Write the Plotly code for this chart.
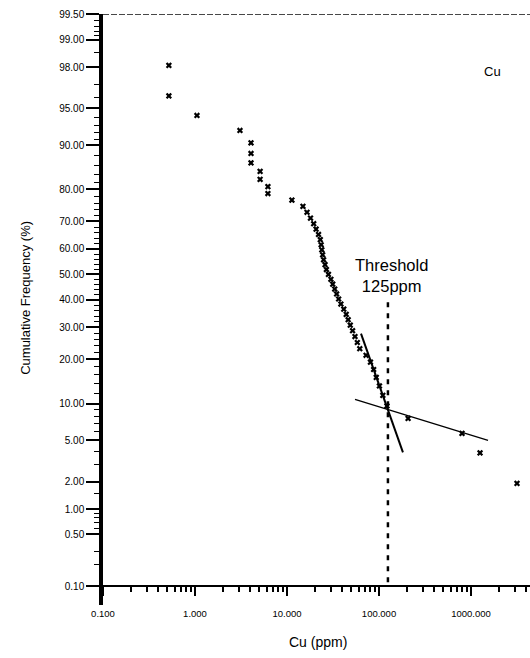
import math
from statistics import NormalDist
import plotly.graph_objects as go

# ---------------- data ----------------
cu_ppm = [0.52, 0.52, 1.05, 3.08, 4.06, 4.06, 4.06, 5.1, 5.1, 6.2, 6.2, 11.3, 14.9,
          16.5, 18.0, 19.5, 20.7, 22.0, 23.0, 23.5, 23.9, 24.4, 25.0,
          25.9, 26.8, 28.2, 30.0, 31.4, 33.0, 34.6, 36.4, 38.5, 41.4,
          44.0, 46.2, 48.7, 51.6, 54.8, 58.1, 61.8, 72.3, 80.7, 87.4,
          93.3, 101, 110, 122, 207, 798, 1253, 3160]
cum_freq = [98.08, 96.15, 94.23, 92.31, 90.38, 88.46, 86.54, 84.62, 82.69, 80.77,
            78.85, 76.92, 75.00, 73.08, 71.15, 69.23, 67.31, 65.38, 63.46, 61.54,
            59.62, 57.69, 55.77, 53.85, 51.92, 50.00, 48.08, 46.15, 44.23, 42.31,
            40.38, 38.46, 36.54, 34.62, 32.69, 30.77, 28.85, 26.92, 25.00, 23.08,
            21.15, 19.23, 17.31, 15.38, 13.46, 11.54, 9.62, 7.69, 5.77, 3.85, 1.92]

steep_ppm = [63.7, 182]
steep_pct = [27.9, 3.9]
shallow_ppm = [54.8, 1531]
shallow_pct = [10.8, 5.0]
threshold_ppm = [125, 125]
threshold_pct = [39.1, 0.1]

y_tick_pct = [99.5, 99, 98, 95, 90, 80, 70, 60, 50, 40, 30, 20, 10, 5, 2, 1, 0.5, 0.1]
y_tick_text = ["99.50", "99.00", "98.00", "95.00", "90.00", "80.00", "70.00", "60.00",
               "50.00", "40.00", "30.00", "20.00", "10.00", "5.00", "2.00", "1.00",
               "0.50", "0.10"]
y_minor_pct = [99.4, 99.3, 99.2, 99.1, 98.6, 97, 96, 94, 93, 92, 91,
               88, 86, 84, 82, 78, 76, 74, 72, 68, 66, 64, 62, 58, 56, 54, 52,
               48, 46, 44, 42, 38, 36, 34, 32, 28, 26, 24, 22, 18, 16, 14, 12,
               9, 8, 7, 6, 4, 3, 1.5, 0.9, 0.8, 0.7, 0.6, 0.3, 0.2]
x_tick_vals = [0.1, 1, 10, 100, 1000]
x_tick_text = ["0.100", "1.000", "10.000", "100.000", "1000.000"]
x_minor_vals = [m * d for d in [0.1, 1, 10, 100, 1000] for m in range(2, 10) if m * d < 4400]

nd = NormalDist()


def z(p):
    return nd.inv_cdf(p / 100.0)


Y_TOP = z(99.5) + 0.004
Y_BOT = -3.275
X_RANGE = [-1, 3.641]

fig = go.Figure()

# fitted lines
fig.add_trace(go.Scatter(x=steep_ppm, y=[z(p) for p in steep_pct], mode="lines",
                         line=dict(color="black", width=2), showlegend=False))
fig.add_trace(go.Scatter(x=shallow_ppm, y=[z(p) for p in shallow_pct], mode="lines",
                         line=dict(color="black", width=1.3), showlegend=False))
# threshold
fig.add_trace(go.Scatter(x=threshold_ppm, y=[z(p) for p in threshold_pct], mode="lines",
                         line=dict(color="black", width=2.5, dash="5px,6px"), showlegend=False))
# data points
fig.add_trace(go.Scatter(x=cu_ppm, y=[z(p) for p in cum_freq], mode="markers",
                         marker=dict(symbol="x", size=5.5, color="black",
                                     line=dict(width=0)),
                         showlegend=False))

# top border (dotted)
fig.add_shape(type="line", xref="paper", yref="y", x0=0, x1=1, y0=z(99.5), y1=z(99.5),
              line=dict(color="#333333", width=1, dash="6px,2px"))

fig.add_annotation(x=math.log10(135), y=z(49.4), xref="x", yref="y",
                   text="Threshold<br>125ppm", showarrow=False,
                   font=dict(family="Liberation Sans, Arial", size=16.5, color="black"))
fig.add_annotation(x=math.log10(1730), y=z(97.8), xref="x", yref="y",
                   text="Cu", showarrow=False,
                   font=dict(family="Liberation Sans, Arial", size=13, color="black"))

fig.add_annotation(x=-0.18, y=0.52, xref="paper", yref="paper", textangle=-90,
                   xanchor="center", yanchor="middle",
                   text="Cumulative Frequency (%)", showarrow=False,
                   font=dict(family="Liberation Sans, Arial", size=13, color="black"))
fig.add_annotation(x=0.5035, y=-0.0626, xref="paper", yref="paper",
                   xanchor="center", yanchor="middle",
                   text="Cu (ppm)", showarrow=False,
                   font=dict(family="Liberation Sans, Arial", size=14, color="black"))

fig.update_layout(
    width=530, height=658,
    margin=dict(l=103, r=0, t=14, b=53),
    paper_bgcolor="white", plot_bgcolor="white",
    font=dict(family="Liberation Sans, Arial", color="black"),
    xaxis=dict(type="log", range=X_RANGE, tickmode="array", tickvals=x_tick_vals,
               ticktext=x_tick_text, ticks="outside", ticklen=9, tickwidth=2,
               tickcolor="black", showline=True, linecolor="black", linewidth=1.5,
               showgrid=False, zeroline=False, anchor="free",
               position=(z(0.1) - Y_BOT) / (Y_TOP - Y_BOT),
               tickfont=dict(size=9.5), ticklabelstandoff=10,
               minor=dict(tickmode="array", tickvals=x_minor_vals, ticks="outside",
                          ticklen=5, tickwidth=2, tickcolor="black", showgrid=False)),
    yaxis=dict(range=[Y_BOT, Y_TOP], tickmode="array",
               tickvals=[z(p) for p in y_tick_pct], ticktext=y_tick_text,
               ticks="outside", ticklen=13, tickwidth=1.5, tickcolor="black",
               showline=True, linecolor="black", linewidth=3.5,
               showgrid=False, zeroline=False, tickfont=dict(size=10),
               minor=dict(tickmode="array", tickvals=[z(p) for p in y_minor_pct],
                          ticks="outside", ticklen=5, tickwidth=1.2,
                          tickcolor="black", showgrid=False)),
)

fig.write_html("out.html")
